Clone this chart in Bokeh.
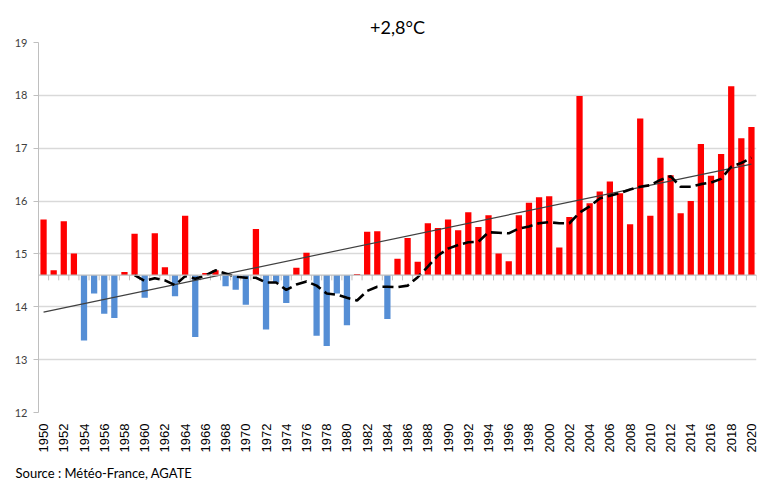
import math
from bokeh.plotting import figure
from bokeh.models import Range1d, FixedTicker, Title, Span
from bokeh.embed import file_html
from bokeh.resources import INLINE

# ---- data ----
years = list(range(1950, 2021))
temps = [15.65, 14.69, 15.62, 15.01, 13.36, 14.25, 13.87, 13.79, 14.66, 15.38,
         14.17, 15.39, 14.75, 14.20, 15.72, 13.43, 14.64, 14.69, 14.39, 14.32,
         14.04, 15.47, 13.57, 14.46, 14.07, 14.74, 15.02, 13.45, 13.26, 14.25,
         13.65, 14.62, 15.42, 15.43, 13.77, 14.91, 15.30, 14.85, 15.58, 15.49,
         15.65, 15.45, 15.79, 15.51, 15.73, 15.01, 14.86, 15.73, 15.97, 16.07,
         16.09, 15.12, 15.70, 17.99, 15.96, 16.18, 16.37, 16.15, 15.56, 17.56,
         15.72, 16.82, 16.49, 15.77, 16.00, 17.08, 16.48, 16.89, 18.17, 17.19,
         17.40]
baseline = 14.6

ma_years = list(range(1959, 2021))
ma_values = [14.60, 14.49, 14.54, 14.50, 14.41, 14.58, 14.53, 14.59, 14.69, 14.63,
             14.57, 14.55, 14.55, 14.46, 14.46, 14.32, 14.42, 14.48, 14.40, 14.25,
             14.23, 14.17, 14.12, 14.30, 14.38, 14.38, 14.37, 14.40, 14.56, 14.76,
             14.97, 15.10, 15.17, 15.22, 15.23, 15.41, 15.40, 15.39, 15.48, 15.52,
             15.58, 15.60, 15.58, 15.58, 15.78, 15.90, 16.05, 16.10, 16.15, 16.22,
             16.27, 16.30, 16.40, 16.47, 16.27, 16.27, 16.32, 16.35, 16.42, 16.65,
             16.72, 16.82]

trend_years = [1950, 2020]
trend_values = [13.9, 16.7]

y_ticks = [12, 13, 14, 15, 16, 17, 18, 19]
x_label_years = list(range(1950, 2021, 2))

title_text = "+2,8°C"
source_text = "Source : Météo-France, AGATE"

# ---- figure ----
p = figure(width=762, height=487, output_backend="svg", toolbar_location=None,
           x_range=Range1d(1949.5, 2020.5), y_range=Range1d(12, 19),
           min_border_left=38, min_border_right=6, min_border_top=42,
           min_border_bottom=75)
p.outline_line_color = None
p.background_fill_color = "white"
p.border_fill_color = "white"

p.title.text = title_text
p.title.align = "center"
p.title.text_font = "Lato"
p.title.text_font_size = "18px"
p.title.text_font_style = "normal"
p.title.text_color = "#000000"
p.title.standoff = 9

p.xgrid.visible = False
p.ygrid.ticker = FixedTicker(ticks=y_ticks)
p.ygrid.grid_line_color = "#D9D9D9"
p.ygrid.grid_line_width = 1.5

p.yaxis.ticker = FixedTicker(ticks=y_ticks)
p.yaxis.axis_line_color = "#BFBFBF"
p.yaxis.major_tick_line_color = "#BFBFBF"
p.yaxis.major_tick_out = 5
p.yaxis.major_tick_in = 0
p.yaxis.minor_tick_line_color = None
p.yaxis.major_label_text_font = "Lato"
p.yaxis.major_label_text_font_size = "11px"
p.yaxis.major_label_text_color = "#404040"
p.yaxis.major_label_standoff = 6

p.xaxis.ticker = FixedTicker(ticks=x_label_years)
p.xaxis.major_label_orientation = math.pi / 2
p.xaxis.axis_line_color = None
p.xaxis.major_tick_line_color = None
p.xaxis.major_tick_out = 0
p.xaxis.major_tick_in = 0
p.xaxis.minor_tick_line_color = None
p.xaxis.minor_tick_out = 0
p.xaxis.major_label_standoff = 11
p.xaxis.major_label_text_font = "Liberation Sans"
p.xaxis.major_label_text_font_size = "13px"
p.xaxis.major_label_text_color = "#000000"

# baseline axis (crossing at the reference value) with category tick marks
p.add_layout(Span(location=baseline, dimension="width", line_color="#BFBFBF", line_width=1.2))
bounds = [y - 0.5 for y in years] + [years[-1] + 0.5]
p.segment(x0=bounds, y0=[baseline] * len(bounds), x1=bounds,
          y1=[baseline - 0.1] * len(bounds), line_color="#BFBFBF", line_width=1)

colors = ["#FF0000" if t >= baseline else "#558ED5" for t in temps]
p.vbar(x=years, width=0.62, bottom=baseline, top=temps, fill_color=colors, line_color=None)

p.line(trend_years, trend_values, line_color="#404040", line_width=1.2)
p.line(ma_years, ma_values, line_color="#000000", line_width=2.6, line_dash="11 5")

src = Title(text=source_text, align="left", offset=-23, text_font="Lato",
            text_font_size="13px", text_font_style="normal", text_color="#000000",
            standoff=14)
p.add_layout(src, "below")

open("out.html", "w").write(file_html(p, INLINE))
